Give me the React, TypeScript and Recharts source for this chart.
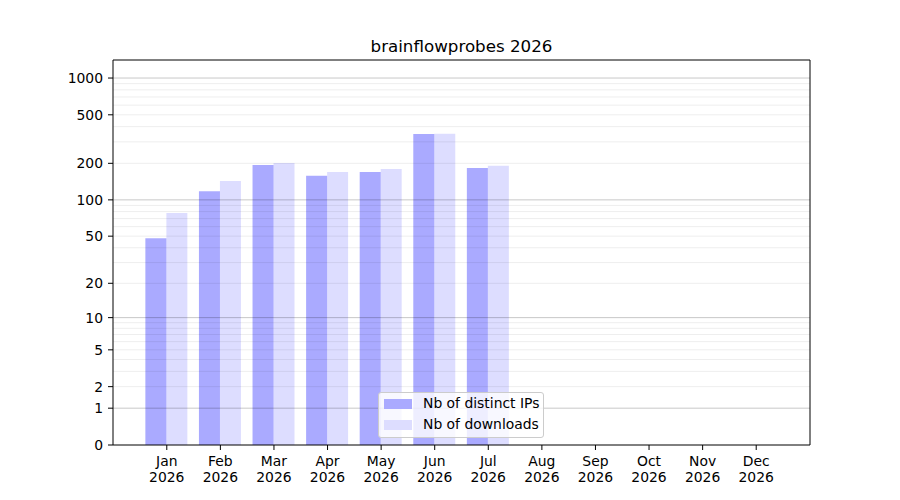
import React from 'react';
import { BarChart, Bar, XAxis, YAxis, ReferenceLine } from 'recharts';

const months = ['Jan', 'Feb', 'Mar', 'Apr', 'May', 'Jun', 'Jul', 'Aug', 'Sep', 'Oct', 'Nov', 'Dec'];
const year = '2026';
const distinctIps = [48, 118, 194, 158, 170, 348, 183, null, null, null, null, null];
const downloads = [78, 143, 201, 170, 180, 350, 191, null, null, null, null, null];
const yTicks = [0, 1, 2, 5, 10, 20, 50, 100, 200, 500, 1000];
const majorGrid = [1, 10, 100, 1000];
const minorGrid = [2, 3, 4, 5, 6, 7, 8, 9, 20, 30, 40, 50, 60, 70, 80, 90, 200, 300, 400, 500, 600, 700, 800, 900];
const yMax = 1405;

const FONT = 'DejaVu Sans';

// the y axis is log10(1 + v)
const tr = (v: number | null) => (v == null ? null : Math.log10(1 + v));

const data = months.map((m, i) => ({
    month: m,
    ips: tr(distinctIps[i]),
    downloads: tr(downloads[i]),
}));

const MonthTick = (props: any) => {
    const { x, y, payload } = props;
    return (
        <text x={x} y={y} textAnchor="middle" fontFamily={FONT} fontSize={13.9} fill="#000">
            <tspan x={x} y={y + 14}>{payload.value}</tspan>
            <tspan x={x} y={y + 30.3}>{year}</tspan>
        </text>
    );
};

const legendItems = [
    { label: 'Nb of distinct IPs', color: '#aaaaff' },
    { label: 'Nb of downloads', color: '#ddddff' },
];

export default function App() {
    return (
        <div style={{ position: 'absolute', left: 0, top: 0, width: 900, height: 500, background: '#fff' }}>
            <div
                style={{
                    position: 'absolute',
                    left: 113,
                    width: 697,
                    top: 38,
                    lineHeight: '17px',
                    textAlign: 'center',
                    fontFamily: FONT,
                    fontSize: 16.7,
                    color: '#000',
                }}
            >
                brainflowprobes 2026
            </div>
            <BarChart
                width={900}
                height={500}
                data={data}
                margin={{ top: 59, right: 89, left: 0, bottom: 10 }}
                barCategoryGap="10%"
                barGap={0}
            >
                <XAxis
                    dataKey="month"
                    interval={0}
                    padding={{ left: 27, right: 27 }}
                    height={45}
                    stroke="#000"
                    tickSize={5}
                    tickMargin={2}
                    tick={<MonthTick />}
                />
                <XAxis xAxisId="top" dataKey="month" orientation="top" height={1} tick={false} tickLine={false} stroke="#000" />
                <YAxis
                    type="number"
                    domain={[0, tr(yMax) as number]}
                    ticks={yTicks.map((t) => tr(t) as number)}
                    allowDataOverflow
                    width={113}
                    stroke="#000"
                    tickSize={5}
                    tickMargin={5}
                    tick={{ fontFamily: FONT, fontSize: 13.9, fill: '#000' }}
                    tickFormatter={(v: number) => String(Math.round(Math.pow(10, v) - 1))}
                />
                <YAxis yAxisId="right" orientation="right" domain={[0, tr(yMax) as number]} width={1} tick={false} tickLine={false} stroke="#000" />
                <Bar dataKey="ips" xAxisId={0} yAxisId={0} fill="#0000ff" fillOpacity={0.333} isAnimationActive={false} />
                <Bar dataKey="downloads" xAxisId={0} yAxisId={0} fill="#0000ff" fillOpacity={0.134} isAnimationActive={false} />
                {minorGrid.map((g) => (
                    <ReferenceLine key={'mi' + g} y={tr(g) as number} stroke="#000" strokeOpacity={0.07} strokeWidth={1} />
                ))}
                {majorGrid.map((g) => (
                    <ReferenceLine key={'ma' + g} y={tr(g) as number} stroke="#000" strokeOpacity={0.22} strokeWidth={1} />
                ))}
            </BarChart>
            <div
                style={{
                    position: 'absolute',
                    left: 378,
                    top: 392,
                    width: 166,
                    height: 46,
                    boxSizing: 'border-box',
                    border: '1px solid #cccccc',
                    borderRadius: 3,
                    background: 'rgba(255,255,255,0.8)',
                    fontFamily: FONT,
                    fontSize: 13.9,
                    color: '#000',
                }}
            >
                {legendItems.map((it, i) => (
                    <React.Fragment key={it.label}>
                        <div
                            style={{
                                position: 'absolute',
                                left: 5,
                                top: 6 + i * 21,
                                width: 28,
                                height: 10,
                                background: it.color,
                            }}
                        />
                        <div
                            style={{
                                position: 'absolute',
                                left: 44,
                                top: 2 + i * 21,
                                lineHeight: '17px',
                                whiteSpace: 'nowrap',
                            }}
                        >
                            {it.label}
                        </div>
                    </React.Fragment>
                ))}
            </div>
        </div>
    );
}
